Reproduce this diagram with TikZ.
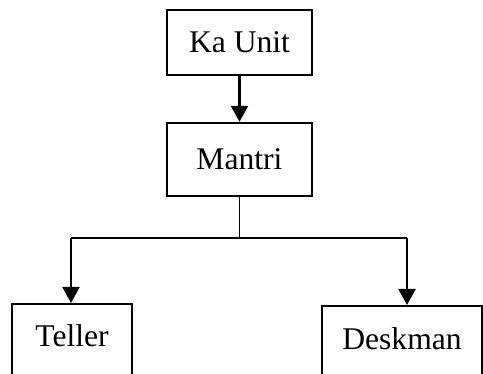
\documentclass[tikz,border=0pt]{standalone}
\usepackage{fontspec}
\setmainfont{Liberation Serif}
\usetikzlibrary{arrows.meta}
\tikzset{
  unitbox/.style={draw, line width=1.2pt, inner sep=0pt, align=center,
    font=\fontsize{15.8}{18}\selectfont},
  arr/.style={line width=1.2pt, -{Triangle[length=8pt,width=8.5pt]}},
  busline/.style={line width=0.9pt}
}
\begin{document}
\begin{tikzpicture}[x=0.5pt, y=-0.5pt]
    \useasboundingbox (0,0) rectangle (483,374);
    \clip (0,0) rectangle (483,374);
    % top of the chart
    \node[unitbox, minimum width=72.5pt, minimum height=32.5pt] (ka) at (239.5,42.5) {Ka Unit};
    \node[unitbox, minimum width=72.5pt, minimum height=36.5pt] (mantri) at (239.5,159.5) {Mantri};
    % bottom boxes, cut by the page edge
    \node[unitbox, anchor=north, minimum width=60pt, text height=21pt, text depth=17.5pt] (teller) at (72,303) {Teller};
    \node[unitbox, anchor=north, minimum width=80pt, text height=21.5pt, text depth=16pt] (deskman) at (402,305) {Deskman};
    \coordinate (bus) at (239.5,238);
    \coordinate (busL) at (71,238);
    \coordinate (busR) at (407,238);
    \draw[arr] (ka.south) -- (mantri.north);
    \draw[busline] (mantri.south) -- (bus);
    \draw[busline] (busL) -- (busR);
    \draw[arr] (busL) -- (busL |- teller.north);
    \draw[arr] (busR) -- (busR |- deskman.north);
\end{tikzpicture}
\end{document}
